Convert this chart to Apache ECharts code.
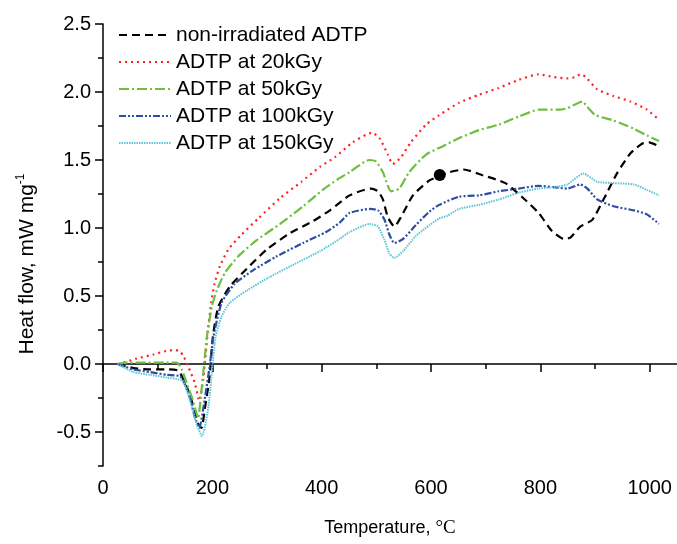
<!DOCTYPE html>
<html>
<head>
<meta charset="utf-8">
<script src="https://cdn.jsdelivr.net/npm/echarts@6/dist/echarts.min.js"></script>
<style>
  html, body { margin: 0; padding: 0; background: #fff; }
  #chart { width: 677px; height: 544px; }
</style>
</head>
<body>
<div id="chart"></div>
<script>
// series names
var seriesNames = ['non-irradiated ADTP', 'ADTP at 20kGy', 'ADTP at 50kGy', 'ADTP at 100kGy', 'ADTP at 150kGy'];

// [temperature, heat flow]
var nonIrradiated = [[27,0],[56,-0.03],[87,-0.04],[117,-0.04],[138,-0.05],[150,-0.14],[160,-0.24],[168,-0.36],[174,-0.44],[180,-0.47],[187,-0.31],[195,-0.09],[201,0.2],[211,0.42],[232,0.57],[263,0.70],[299,0.84],[341,0.96],[384,1.05],[415,1.13],[451,1.24],[490,1.29],[503,1.27],[512,1.21],[521,1.08],[533,1.01],[545,1.08],[567,1.24],[597,1.35],[615,1.38],[633,1.41],[660,1.43],[693,1.39],[736,1.33],[766,1.23],[797,1.11],[821,0.98],[843,0.92],[855,0.93],[873,1.01],[895,1.06],[917,1.22],[940,1.40],[965,1.55],[986,1.62],[999,1.63],[1017,1.60]];
var dose20 = [[27,0],[37,0.01],[62,0.04],[92,0.07],[122,0.10],[138,0.10],[147,0.06],[156,-0.02],[168,-0.14],[176,-0.27],[183,-0.12],[188,0.08],[192,0.25],[198,0.45],[204,0.59],[214,0.72],[229,0.84],[253,0.95],[284,1.07],[324,1.22],[363,1.34],[397,1.45],[424,1.52],[457,1.63],[492,1.70],[506,1.66],[521,1.54],[530,1.47],[545,1.52],[563,1.63],[591,1.76],[615,1.83],[651,1.92],[688,1.98],[724,2.03],[761,2.09],[797,2.13],[825,2.11],[849,2.10],[864,2.11],[873,2.13],[883,2.11],[904,2.02],[934,1.97],[965,1.93],[995,1.87],[1013,1.81]];
var dose50 = [[27,0],[44,0.01],[80,0.01],[116,0.01],[135,0.01],[144,-0.04],[153,-0.14],[162,-0.24],[171,-0.36],[174,-0.40],[180,-0.2],[185,0.0],[190,0.2],[199,0.42],[208,0.54],[223,0.67],[247,0.79],[281,0.91],[324,1.03],[366,1.16],[402,1.28],[430,1.36],[451,1.41],[487,1.50],[499,1.49],[512,1.41],[527,1.27],[542,1.29],[560,1.41],[591,1.54],[621,1.60],[651,1.66],[688,1.72],[724,1.76],[761,1.82],[797,1.87],[834,1.87],[849,1.88],[877,1.93],[886,1.89],[901,1.83],[934,1.79],[971,1.73],[995,1.68],[1017,1.64]];
var dose100 = [[27,0],[56,-0.04],[87,-0.06],[117,-0.08],[141,-0.09],[150,-0.15],[160,-0.26],[168,-0.39],[176,-0.47],[186,-0.26],[195,-0.02],[202,0.2],[217,0.45],[241,0.59],[275,0.69],[317,0.79],[366,0.89],[408,0.97],[433,1.04],[451,1.11],[488,1.14],[503,1.13],[515,1.06],[524,0.95],[533,0.89],[549,0.92],[572,1.02],[597,1.12],[615,1.17],[651,1.23],[688,1.24],[724,1.27],[761,1.29],[797,1.31],[825,1.30],[849,1.29],[873,1.32],[886,1.29],[904,1.21],[934,1.16],[971,1.13],[995,1.10],[1017,1.03]];
var dose150 = [[27,0],[56,-0.06],[87,-0.08],[117,-0.10],[144,-0.12],[153,-0.19],[162,-0.31],[171,-0.44],[181,-0.53],[193,-0.31],[200,-0.02],[206,0.2],[217,0.35],[232,0.45],[263,0.54],[305,0.64],[353,0.74],[397,0.83],[433,0.92],[451,0.97],[488,1.03],[503,1.01],[515,0.91],[524,0.81],[533,0.78],[549,0.83],[572,0.94],[597,1.02],[615,1.07],[630,1.09],[651,1.14],[688,1.17],[724,1.21],[761,1.26],[797,1.29],[825,1.30],[849,1.32],[879,1.40],[904,1.34],[934,1.33],[971,1.32],[995,1.28],[1017,1.24]];
var markedPoint = [[616, 1.39]];

// ticks
var xMajorTicks = [0, 200, 400, 600, 800, 1000];
var xMinorTicks = [100, 300, 500, 700, 900];
var yMajorTicks = [-0.5, 0, 0.5, 1.0, 1.5, 2.0, 2.5];
var yMinorTicks = [-0.75, -0.25, 0.25, 0.75, 1.25, 1.75, 2.25];

var FONT = 'Liberation Sans, Arial, sans-serif';
var chart = echarts.init(document.getElementById('chart'));

function lineSeries(name, data, color, dash, width) {
    return {
        name: name,
        type: 'line',
        data: data,
        symbol: 'none',
        smooth: 0.2,
        xAxisIndex: 0,
        yAxisIndex: 0,
        lineStyle: { color: color, width: width, type: dash, cap: 'butt' },
        itemStyle: { color: color },
        animation: false
    };
}

var axisCommon = {
    axisLine: { show: true, lineStyle: { color: '#000', width: 1.5 } },
    splitLine: { show: false }
};

var option = {
    backgroundColor: '#fff',
    animation: false,
    grid: { left: 103, right: 0, top: 24, bottom: 78 },
    legend: {
        orient: 'vertical',
        left: 118,
        top: 24,
        padding: 0,
        itemWidth: 52,
        itemHeight: 14,
        itemGap: 5,
        data: seriesNames,
        itemStyle: { opacity: 0 },
        textStyle: { fontFamily: FONT, fontSize: 21, color: '#000', lineHeight: 22 }
    },
    xAxis: [
        Object.assign({}, axisCommon, {
            type: 'value', min: 0, max: 1050, position: 'bottom',
            name: '{a|Temperature, }{b|°C}',
            nameLocation: 'middle', nameGap: 53,
            nameTextStyle: { rich: {
                a: { fontFamily: FONT, fontSize: 18, color: '#000' },
                b: { fontFamily: 'Liberation Serif, serif', fontSize: 19, color: '#000' }
            } },
            axisTick: { show: true, inside: false, length: 8, customValues: xMajorTicks, lineStyle: { color: '#000', width: 1.5 } },
            axisLabel: {
                customValues: xMajorTicks, fontFamily: FONT, fontSize: 20, color: '#000', margin: 12,
                formatter: function (v) { return String(v); }
            }
        }),
        {
            type: 'value', min: 0, max: 1050, position: 'bottom', gridIndex: 0,
            axisLine: { show: false }, splitLine: { show: false },
            axisLabel: { show: false },
            axisTick: { show: true, length: 5, customValues: xMinorTicks, lineStyle: { color: '#000', width: 1.5 } }
        }
    ],
    yAxis: [
        Object.assign({}, axisCommon, {
            type: 'value', min: -0.75, max: 2.5, position: 'left',
            name: '{a|Heat flow, mW mg}{s|-1}',
            nameLocation: 'middle', nameGap: 64,
            nameTextStyle: {
                padding: [0, 38, 0, 0],
                rich: {
                    a: { fontFamily: FONT, fontSize: 21, color: '#000' },
                    s: { fontFamily: FONT, fontSize: 12, color: '#000', verticalAlign: 'top', padding: [0, 0, 12, 0] }
                }
            },
            axisTick: { show: true, length: 8, customValues: yMajorTicks, lineStyle: { color: '#000', width: 1.5 } },
            axisLabel: {
                customValues: yMajorTicks, fontFamily: FONT, fontSize: 20, color: '#000', margin: 12,
                formatter: function (v) { return v.toFixed(1); }
            }
        }),
        {
            type: 'value', min: -0.75, max: 2.5, position: 'left', gridIndex: 0,
            axisLine: { show: false }, splitLine: { show: false },
            axisLabel: { show: false },
            axisTick: { show: true, length: 5, customValues: yMinorTicks, lineStyle: { color: '#000', width: 1.5 } }
        }
    ],
    series: [
        lineSeries(seriesNames[0], nonIrradiated, '#000000', [8, 5], 2.2),
        lineSeries(seriesNames[1], dose20, '#ff2222', [2, 4], 2.2),
        lineSeries(seriesNames[2], dose50, '#6cbf3f', [10, 3, 2, 3], 2.2),
        lineSeries(seriesNames[3], dose100, '#2c4ea3', [7, 2, 2, 2, 2, 2], 2.2),
        lineSeries(seriesNames[4], dose150, '#5cc6d6', [1.5, 1], 2),
        {
            name: 'point',
            type: 'scatter',
            data: markedPoint,
            symbolSize: 12,
            itemStyle: { color: '#000', opacity: 1 },
            animation: false
        }
    ]
};

chart.setOption(option);
</script>
</body>
</html>
